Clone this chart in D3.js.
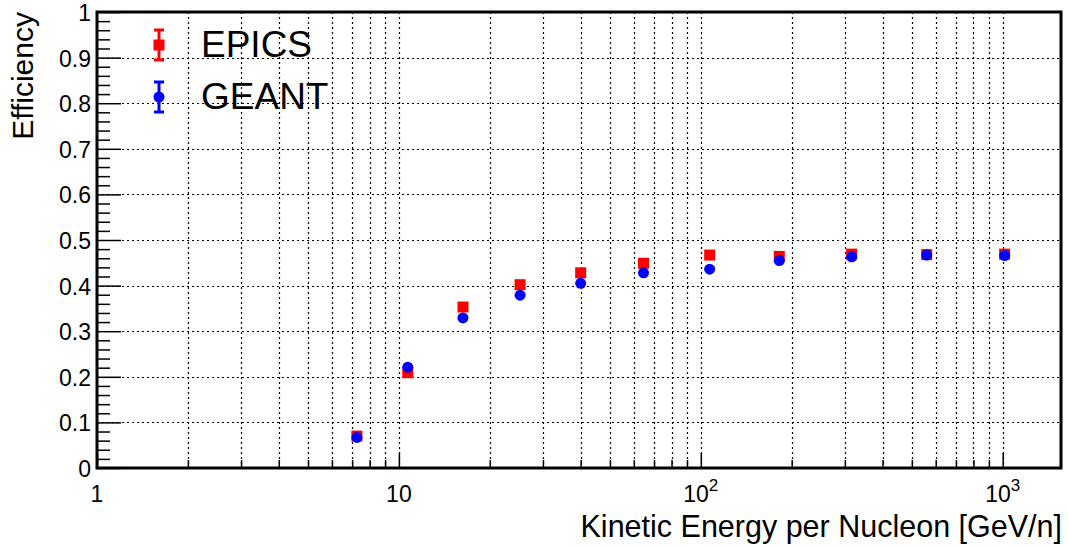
<!DOCTYPE html>
<html>
<head>
<meta charset="utf-8">
<script src="https://cdn.jsdelivr.net/npm/d3@7"></script>
<style>
  body { margin: 0; background: #fff; }
  svg { display: block; font-family: "Liberation Sans", Arial, sans-serif; }
</style>
</head>
<body>
<svg width="1068" height="546"></svg>
<script>
// data
var energy = [7.26, 10.7, 16.3, 25.2, 40.0, 64.6, 107, 182, 316, 560, 1015];
var epics  = [0.070, 0.209, 0.353, 0.402, 0.428, 0.449, 0.467, 0.464, 0.469, 0.468, 0.469];
var geant  = [0.067, 0.221, 0.329, 0.379, 0.405, 0.428, 0.436, 0.455, 0.463, 0.467, 0.466];

var seriesNames = ["EPICS", "GEANT"];
var seriesColors = ["#ff0000", "#0000ff"];

var xMajor = [1, 10, 100, 1000];
var yMajor = [0, 0.1, 0.2, 0.3, 0.4, 0.5, 0.6, 0.7, 0.8, 0.9, 1];
var yLabels = ["0", "0.1", "0.2", "0.3", "0.4", "0.5", "0.6", "0.7", "0.8", "0.9", "1"];

// frame edges (pixels)
var pL = 97, pR = 1061, pT = 12, pB = 468;

var svg = d3.select("svg");

var x = d3.scaleLog().domain([1, 1560]).range([pL, pR]);
var y = d3.scaleLinear().domain([0, 1]).range([pB, pT]);

// minor x ticks 2..9 per decade
var xMinor = [];
xMajor.forEach(function (d) {
  for (var k = 2; k <= 9; k++) {
    if (d * k < 1560) xMinor.push(d * k);
  }
});
var yMinor = d3.range(0, 51).map(function (i) { return i * 0.02; })
  .filter(function (v) { return Math.abs(v * 10 - Math.round(v * 10)) > 1e-6; });

// grid
var grid = svg.append("g")
  .attr("stroke", "#000")
  .attr("stroke-width", 1.2)
  .attr("stroke-dasharray", "2,3");

grid.selectAll("line.vx")
  .data(xMajor.concat(xMinor).filter(function (d) { return d > 1; }))
  .enter().append("line")
  .attr("x1", function (d) { return Math.round(x(d)) + 0.5; })
  .attr("x2", function (d) { return Math.round(x(d)) + 0.5; })
  .attr("y1", pT).attr("y2", pB);

grid.selectAll("line.hy")
  .data(yMajor.filter(function (d) { return d > 0 && d < 1; }))
  .enter().append("line")
  .attr("y1", function (d) { return Math.round(y(d)) + 0.5; })
  .attr("y2", function (d) { return Math.round(y(d)) + 0.5; })
  .attr("x1", pL).attr("x2", pR);

// ticks (drawn inward with d3 axes)
function styleAxis(g) {
  g.select(".domain").remove();
  g.selectAll("line").attr("stroke", "#000").attr("stroke-width", 1.5);
  g.selectAll("text").remove();
}

svg.append("g")
  .attr("transform", "translate(0," + pB + ")")
  .call(d3.axisBottom(x).tickValues(xMajor).tickSize(-15).tickFormat(""))
  .call(styleAxis);
svg.append("g")
  .attr("transform", "translate(0," + pB + ")")
  .call(d3.axisBottom(x).tickValues(xMinor).tickSize(-8).tickFormat(""))
  .call(styleAxis);
svg.append("g")
  .attr("transform", "translate(" + pL + ",0)")
  .call(d3.axisLeft(y).tickValues(yMajor).tickSize(-24).tickFormat(""))
  .call(styleAxis);
svg.append("g")
  .attr("transform", "translate(" + pL + ",0)")
  .call(d3.axisLeft(y).tickValues(yMinor).tickSize(-13).tickFormat(""))
  .call(styleAxis);

// frame
svg.append("rect")
  .attr("x", pL).attr("y", pT)
  .attr("width", pR - pL).attr("height", pB - pT)
  .attr("fill", "none")
  .attr("stroke", "#000")
  .attr("stroke-width", 3);

// y tick labels
svg.selectAll("text.ylab")
  .data(yMajor)
  .enter().append("text")
  .attr("x", pL - 6)
  .attr("y", function (d) { return y(d) + 9; })
  .attr("text-anchor", "end")
  .attr("font-size", 23)
  .text(function (d, i) { return yLabels[i]; });

// x tick labels (10^n style)
var xl = svg.selectAll("text.xlab")
  .data(xMajor)
  .enter().append("text")
  .attr("x", function (d) { return x(d); })
  .attr("y", 502)
  .attr("text-anchor", "middle")
  .attr("font-size", 23);
xl.each(function (d) {
  var t = d3.select(this);
  var p = Math.round(Math.log10(d));
  if (p <= 1) {
    t.text(String(d));
  } else {
    t.append("tspan").text("10");
    t.append("tspan").attr("font-size", 17).attr("dy", -11).text(String(p));
  }
});

// axis titles
svg.append("text")
  .attr("x", 1062).attr("y", 537)
  .attr("text-anchor", "end")
  .attr("font-size", 30.5)
  .text("Kinetic Energy per Nucleon [GeV/n]");

svg.append("text")
  .attr("transform", "translate(33,12) rotate(-90)")
  .attr("text-anchor", "end")
  .attr("font-size", 30)
  .text("Efficiency");

// data markers
var plot = svg.append("g");
plot.selectAll("rect.ep")
  .data(energy)
  .enter().append("rect")
  .attr("x", function (d) { return x(d) - 5.5; })
  .attr("y", function (d, i) { return y(epics[i]) - 5.5; })
  .attr("width", 11).attr("height", 11)
  .attr("fill", seriesColors[0]);

plot.selectAll("circle.ge")
  .data(energy)
  .enter().append("circle")
  .attr("cx", function (d) { return x(d); })
  .attr("cy", function (d, i) { return y(geant[i]); })
  .attr("r", 5.5)
  .attr("fill", seriesColors[1]);

// legend
var leg = svg.append("g");
var legY = [45, 97];
seriesNames.forEach(function (name, i) {
  var g = leg.append("g").attr("transform", "translate(159," + legY[i] + ")");
  g.append("line").attr("x1", 0).attr("x2", 0).attr("y1", -15).attr("y2", 15)
    .attr("stroke", seriesColors[i]).attr("stroke-width", 3);
  g.append("line").attr("x1", -5).attr("x2", 5).attr("y1", -15).attr("y2", -15)
    .attr("stroke", seriesColors[i]).attr("stroke-width", 3);
  g.append("line").attr("x1", -5).attr("x2", 5).attr("y1", 15).attr("y2", 15)
    .attr("stroke", seriesColors[i]).attr("stroke-width", 3);
  if (i == 0) {
    g.append("rect").attr("x", -5.5).attr("y", -5.5).attr("width", 11).attr("height", 11)
      .attr("fill", seriesColors[i]);
  } else {
    g.append("circle").attr("r", 5.5).attr("fill", seriesColors[i]);
  }
  leg.append("text")
    .attr("x", 201)
    .attr("y", legY[i] + 12)
    .attr("font-size", 37)
    .text(name);
});
</script>
</body>
</html>
